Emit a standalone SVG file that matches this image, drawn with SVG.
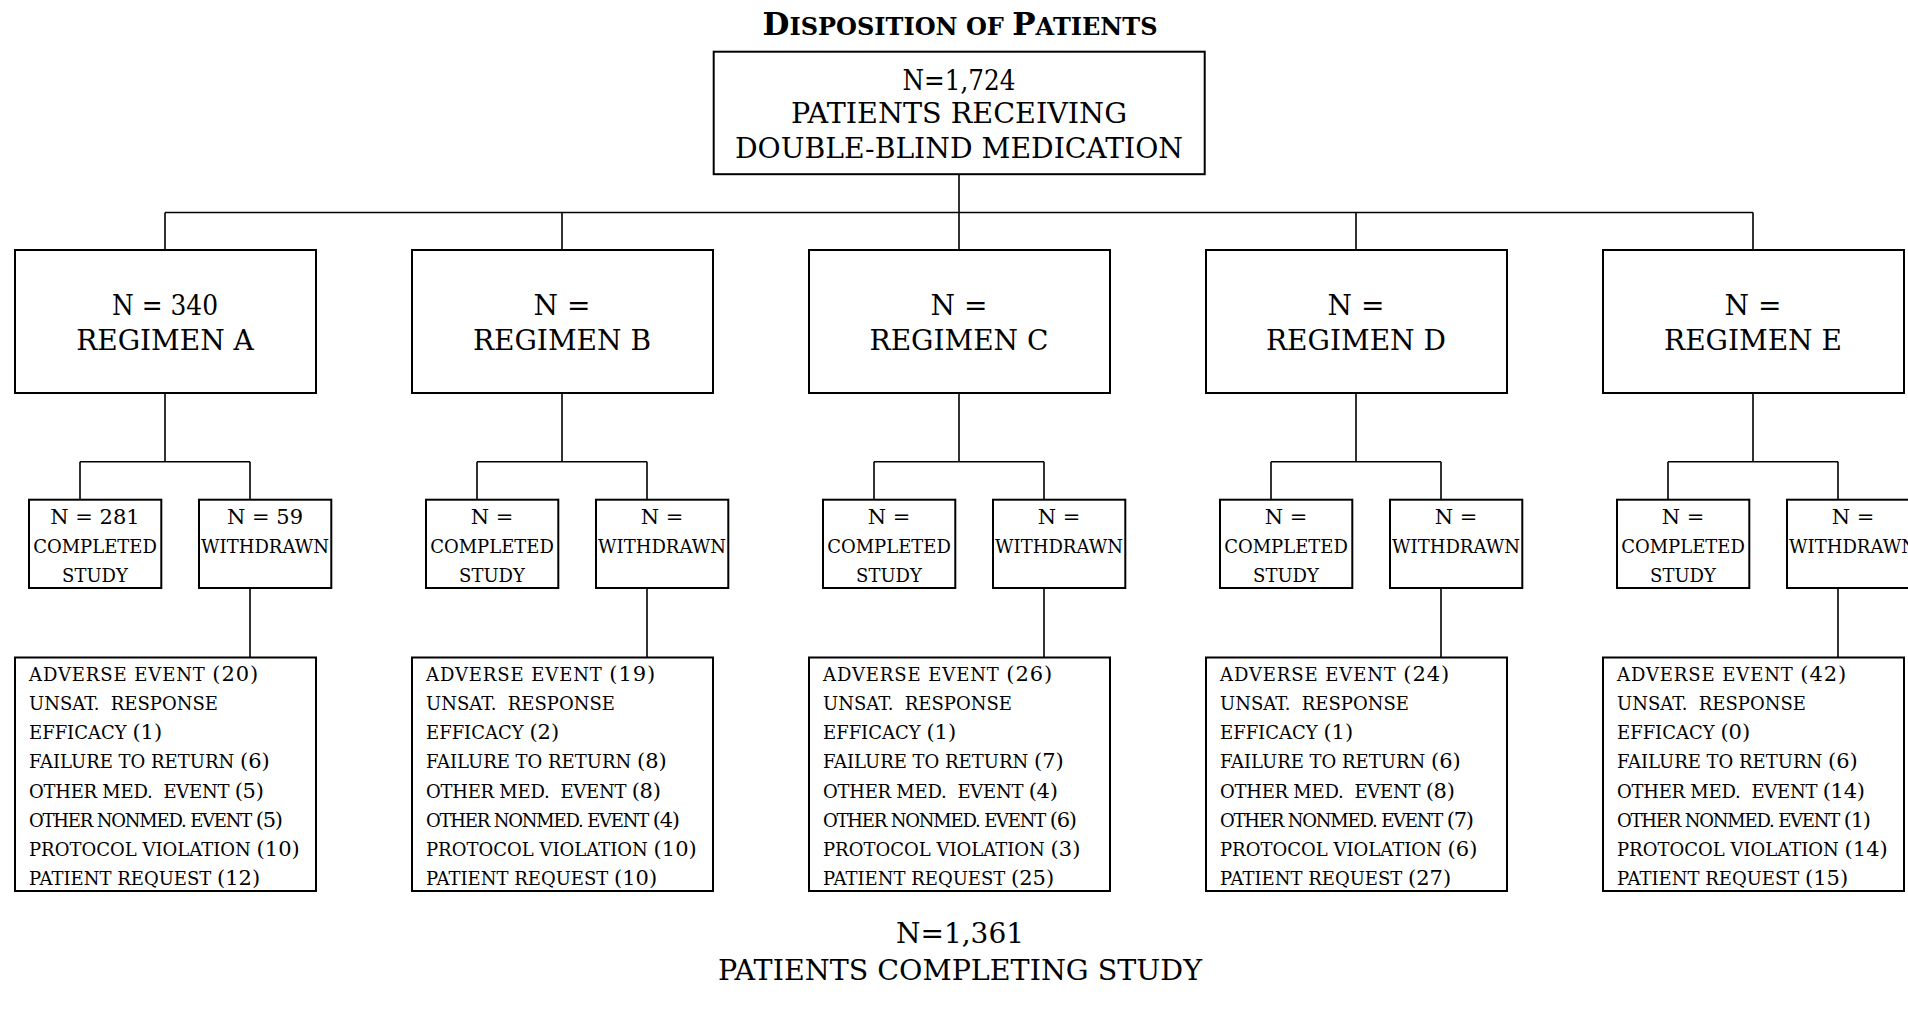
<svg xmlns="http://www.w3.org/2000/svg" width="1908" height="1014" viewBox="0 0 1908 1014">
<style>
text{font-family:"DejaVu Serif","Liberation Serif",serif;fill:#000}
.box{fill:#fff;stroke:#000;stroke-width:2}
.conn{fill:none;stroke:#000;stroke-width:1.6}
.t28{font-size:28px;text-anchor:middle}
.t21{font-size:21px;text-anchor:middle}
.t17{font-size:18px;text-anchor:middle}
.r{font-size:18px;white-space:pre}
.n{font-size:21px}
.adv{letter-spacing:0.9px}
.om{letter-spacing:-0.25px}
.nm{letter-spacing:-1.2px}
.ttl{font-weight:bold;text-anchor:middle}
</style>
<rect width="1908" height="1014" fill="#fff"/>
<text id="title" class="ttl" x="960" y="35" textLength="395" lengthAdjust="spacingAndGlyphs"><tspan font-size="31">D</tspan><tspan font-size="24">ISPOSITION OF </tspan><tspan font-size="31">P</tspan><tspan font-size="24">ATIENTS</tspan></text>

<g id="connectors">
<path class="conn" d="M959 175V249M165 212.5H1753M165 212.5V249M562 212.5V249M1356 212.5V249M1753 212.5V249"/>
<path class="conn" d="M165 393V461.7M80 461.7H250M80 461.7V499M250 461.7V499M250 588V657"/>
<path class="conn" d="M562 393V461.7M477 461.7H647M477 461.7V499M647 461.7V499M647 588V657"/>
<path class="conn" d="M959 393V461.7M874 461.7H1044M874 461.7V499M1044 461.7V499M1044 588V657"/>
<path class="conn" d="M1356 393V461.7M1271 461.7H1441M1271 461.7V499M1441 461.7V499M1441 588V657"/>
<path class="conn" d="M1753 393V461.7M1668 461.7H1838M1668 461.7V499M1838 461.7V499M1838 588V657"/>
</g>

<g id="top">
<rect class="box" x="713.7" y="51.7" width="491" height="122.5"/>
<text class="t28" x="959" y="90" textLength="113" lengthAdjust="spacingAndGlyphs">N=1,724</text>
<text class="t28" x="959" y="123" textLength="336" lengthAdjust="spacingAndGlyphs">PATIENTS RECEIVING</text>
<text class="t28" x="959" y="158" textLength="448" lengthAdjust="spacingAndGlyphs">DOUBLE-BLIND MEDICATION</text>
</g>

<g id="regA">
<rect class="box" x="15" y="250" width="301" height="143"/>
<text class="t28" x="165" y="315" textLength="106" lengthAdjust="spacingAndGlyphs">N = 340</text>
<text class="t28" x="165" y="350">REGIMEN A</text>
</g>
<g id="compA">
<rect class="box" x="29" y="499.7" width="132.3" height="88.3"/>
<text class="t21" x="95" y="524">N = 281</text>
<text class="t17" x="95" y="553">COMPLETED</text>
<text class="t17" x="95" y="582">STUDY</text>
</g>
<g id="withA">
<rect class="box" x="199" y="499.7" width="132.3" height="88.3"/>
<text class="t21" x="265" y="524">N = 59</text>
<text class="t17" x="265" y="553">WITHDRAWN</text>
</g>
<g id="reasA">
<rect class="box" x="15" y="657.5" width="301" height="233.5"/>
<text class="r adv" x="29" y="681">ADVERSE EVENT <tspan class="n">(20)</tspan></text>
<text class="r" x="29" y="710">UNSAT.  RESPONSE</text>
<text class="r" x="29" y="739">EFFICACY <tspan class="n">(1)</tspan></text>
<text class="r" x="29" y="768">FAILURE TO RETURN <tspan class="n">(6)</tspan></text>
<text class="r om" x="29" y="798">OTHER MED.  EVENT <tspan class="n">(5)</tspan></text>
<text class="r nm" x="29" y="827">OTHER NONMED. EVENT <tspan class="n">(5)</tspan></text>
<text class="r" x="29" y="856">PROTOCOL VIOLATION <tspan class="n">(10)</tspan></text>
<text class="r" x="29" y="885">PATIENT REQUEST <tspan class="n">(12)</tspan></text>
</g>

<g id="regB">
<rect class="box" x="412" y="250" width="301" height="143"/>
<text class="t28" x="562" y="315">N =</text>
<text class="t28" x="562" y="350">REGIMEN B</text>
</g>
<g id="compB">
<rect class="box" x="426" y="499.7" width="132.3" height="88.3"/>
<text class="t21" x="492" y="524">N =</text>
<text class="t17" x="492" y="553">COMPLETED</text>
<text class="t17" x="492" y="582">STUDY</text>
</g>
<g id="withB">
<rect class="box" x="596" y="499.7" width="132.3" height="88.3"/>
<text class="t21" x="662" y="524">N =</text>
<text class="t17" x="662" y="553">WITHDRAWN</text>
</g>
<g id="reasB">
<rect class="box" x="412" y="657.5" width="301" height="233.5"/>
<text class="r adv" x="426" y="681">ADVERSE EVENT <tspan class="n">(19)</tspan></text>
<text class="r" x="426" y="710">UNSAT.  RESPONSE</text>
<text class="r" x="426" y="739">EFFICACY <tspan class="n">(2)</tspan></text>
<text class="r" x="426" y="768">FAILURE TO RETURN <tspan class="n">(8)</tspan></text>
<text class="r om" x="426" y="798">OTHER MED.  EVENT <tspan class="n">(8)</tspan></text>
<text class="r nm" x="426" y="827">OTHER NONMED. EVENT <tspan class="n">(4)</tspan></text>
<text class="r" x="426" y="856">PROTOCOL VIOLATION <tspan class="n">(10)</tspan></text>
<text class="r" x="426" y="885">PATIENT REQUEST <tspan class="n">(10)</tspan></text>
</g>

<g id="regC">
<rect class="box" x="809" y="250" width="301" height="143"/>
<text class="t28" x="959" y="315">N =</text>
<text class="t28" x="959" y="350">REGIMEN C</text>
</g>
<g id="compC">
<rect class="box" x="823" y="499.7" width="132.3" height="88.3"/>
<text class="t21" x="889" y="524">N =</text>
<text class="t17" x="889" y="553">COMPLETED</text>
<text class="t17" x="889" y="582">STUDY</text>
</g>
<g id="withC">
<rect class="box" x="993" y="499.7" width="132.3" height="88.3"/>
<text class="t21" x="1059" y="524">N =</text>
<text class="t17" x="1059" y="553">WITHDRAWN</text>
</g>
<g id="reasC">
<rect class="box" x="809" y="657.5" width="301" height="233.5"/>
<text class="r adv" x="823" y="681">ADVERSE EVENT <tspan class="n">(26)</tspan></text>
<text class="r" x="823" y="710">UNSAT.  RESPONSE</text>
<text class="r" x="823" y="739">EFFICACY <tspan class="n">(1)</tspan></text>
<text class="r" x="823" y="768">FAILURE TO RETURN <tspan class="n">(7)</tspan></text>
<text class="r om" x="823" y="798">OTHER MED.  EVENT <tspan class="n">(4)</tspan></text>
<text class="r nm" x="823" y="827">OTHER NONMED. EVENT <tspan class="n">(6)</tspan></text>
<text class="r" x="823" y="856">PROTOCOL VIOLATION <tspan class="n">(3)</tspan></text>
<text class="r" x="823" y="885">PATIENT REQUEST <tspan class="n">(25)</tspan></text>
</g>

<g id="regD">
<rect class="box" x="1206" y="250" width="301" height="143"/>
<text class="t28" x="1356" y="315">N =</text>
<text class="t28" x="1356" y="350">REGIMEN D</text>
</g>
<g id="compD">
<rect class="box" x="1220" y="499.7" width="132.3" height="88.3"/>
<text class="t21" x="1286" y="524">N =</text>
<text class="t17" x="1286" y="553">COMPLETED</text>
<text class="t17" x="1286" y="582">STUDY</text>
</g>
<g id="withD">
<rect class="box" x="1390" y="499.7" width="132.3" height="88.3"/>
<text class="t21" x="1456" y="524">N =</text>
<text class="t17" x="1456" y="553">WITHDRAWN</text>
</g>
<g id="reasD">
<rect class="box" x="1206" y="657.5" width="301" height="233.5"/>
<text class="r adv" x="1220" y="681">ADVERSE EVENT <tspan class="n">(24)</tspan></text>
<text class="r" x="1220" y="710">UNSAT.  RESPONSE</text>
<text class="r" x="1220" y="739">EFFICACY <tspan class="n">(1)</tspan></text>
<text class="r" x="1220" y="768">FAILURE TO RETURN <tspan class="n">(6)</tspan></text>
<text class="r om" x="1220" y="798">OTHER MED.  EVENT <tspan class="n">(8)</tspan></text>
<text class="r nm" x="1220" y="827">OTHER NONMED. EVENT <tspan class="n">(7)</tspan></text>
<text class="r" x="1220" y="856">PROTOCOL VIOLATION <tspan class="n">(6)</tspan></text>
<text class="r" x="1220" y="885">PATIENT REQUEST <tspan class="n">(27)</tspan></text>
</g>

<g id="regE">
<rect class="box" x="1603" y="250" width="301" height="143"/>
<text class="t28" x="1753" y="315">N =</text>
<text class="t28" x="1753" y="350">REGIMEN E</text>
</g>
<g id="compE">
<rect class="box" x="1617" y="499.7" width="132.3" height="88.3"/>
<text class="t21" x="1683" y="524">N =</text>
<text class="t17" x="1683" y="553">COMPLETED</text>
<text class="t17" x="1683" y="582">STUDY</text>
</g>
<g id="withE">
<rect class="box" x="1787" y="499.7" width="132.3" height="88.3"/>
<text class="t21" x="1853" y="524">N =</text>
<text class="t17" x="1853" y="553">WITHDRAWN</text>
</g>
<g id="reasE">
<rect class="box" x="1603" y="657.5" width="301" height="233.5"/>
<text class="r adv" x="1617" y="681">ADVERSE EVENT <tspan class="n">(42)</tspan></text>
<text class="r" x="1617" y="710">UNSAT.  RESPONSE</text>
<text class="r" x="1617" y="739">EFFICACY <tspan class="n">(0)</tspan></text>
<text class="r" x="1617" y="768">FAILURE TO RETURN <tspan class="n">(6)</tspan></text>
<text class="r om" x="1617" y="798">OTHER MED.  EVENT <tspan class="n">(14)</tspan></text>
<text class="r nm" x="1617" y="827">OTHER NONMED. EVENT <tspan class="n">(1)</tspan></text>
<text class="r" x="1617" y="856">PROTOCOL VIOLATION <tspan class="n">(14)</tspan></text>
<text class="r" x="1617" y="885">PATIENT REQUEST <tspan class="n">(15)</tspan></text>
</g>

<g id="bottom">
<text class="t28" x="960" y="943">N=1,361</text>
<text class="t28" x="960" y="980" textLength="484" lengthAdjust="spacingAndGlyphs">PATIENTS COMPLETING STUDY</text>
</g>
</svg>
